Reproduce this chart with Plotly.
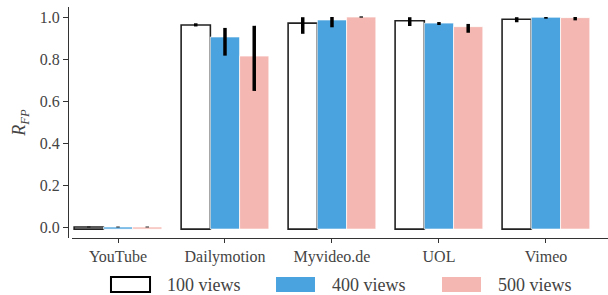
import plotly.graph_objects as go

categories = ["YouTube", "Dailymotion", "Myvideo.de", "UOL", "Vimeo"]
series_names = ["100 views", "400 views", "500 views"]

views100 = [0.0, 0.962, 0.971, 0.982, 0.989]
views100_hi = [0.002, 0.970, 0.999, 0.999, 0.999]
views100_lo = [-0.002, 0.955, 0.920, 0.957, 0.975]

views400 = [0.0, 0.905, 0.986, 0.971, 0.999]
views400_hi = [0.002, 0.948, 1.000, 0.976, 1.000]
views400_lo = [-0.002, 0.816, 0.951, 0.962, 0.992]

views500 = [0.0, 0.814, 1.000, 0.954, 0.997]
views500_hi = [0.002, 0.958, 1.003, 0.967, 1.000]
views500_lo = [-0.002, 0.648, 0.997, 0.925, 0.984]

y_ticks = [0.0, 0.2, 0.4, 0.6, 0.8, 1.0]

FONT = "Liberation Serif"
TXT = "#444444"
PAD = 0.01  # minimal visual height so zero-valued bars still show as a line

styles = [
    dict(color="white", line=dict(color="#222222", width=1.6)),
    dict(color="#4aa3df", line=dict(color="white", width=0.7)),
    dict(color="#f5b7b1", line=dict(color="white", width=0.7)),
]

fig = go.Figure()
for name, vals, hi, lo, st in zip(
    series_names,
    [views100, views400, views500],
    [views100_hi, views400_hi, views500_hi],
    [views100_lo, views400_lo, views500_lo],
    styles,
):
    fig.add_trace(go.Bar(
        x=categories,
        y=[v + PAD for v in vals],
        base=-PAD,
        name=name,
        marker=st,
        error_y=dict(
            type="data",
            symmetric=False,
            array=[h - v for h, v in zip(hi, vals)],
            arrayminus=[v - l for v, l in zip(vals, lo)],
            color="black",
            thickness=3.5,
            width=0,
        ),
        showlegend=False,
    ))

# custom legend swatches (wide boxes as in the reference)
legend_boxes = [(0.0796, 0.1519), (0.3852, 0.4574), (0.6926, 0.7648)]
legend_text_x = [0.1796, 0.4852, 0.7926]
for (x0, x1), st, tx, name in zip(legend_boxes, styles, legend_text_x, series_names):
    lc = "black" if st["color"] == "white" else st["color"]
    lw = 2 if st["color"] == "white" else 0
    fig.add_shape(type="rect", xref="paper", yref="paper",
                  x0=x0, x1=x1, y0=-0.2338, y1=-0.1688,
                  fillcolor=st["color"], line=dict(color=lc, width=lw))
    fig.add_annotation(x=tx, y=-0.2035, xref="paper", yref="paper",
                       text=name, showarrow=False, xanchor="left", yanchor="middle",
                       font=dict(family=FONT, size=18, color=TXT))

fig.update_layout(
    width=608, height=295,
    margin=dict(l=68, r=0, t=7, b=57),
    paper_bgcolor="white", plot_bgcolor="white",
    barmode="group", bargap=0.18, bargroupgap=0,
    font=dict(family=FONT, size=16, color=TXT),
    xaxis=dict(
        domain=[4 / 540, 1],
        range=[-0.43, 4.58],
        showline=True, linecolor="#333333", linewidth=1.2,
        ticks="outside", ticklen=4, tickcolor="#333333",
        showgrid=False, zeroline=False,
        tickfont=dict(family=FONT, size=16, color=TXT),
    ),
    yaxis=dict(
        anchor="free", position=0,
        range=[-0.0524, 1.0476],
        tickvals=y_ticks, tickformat=".1f",
        showline=True, linecolor="#333333", linewidth=1.2,
        ticks="outside", ticklen=5, tickcolor="#333333",
        showgrid=False, zeroline=False,
        tickfont=dict(family=FONT, size=16, color=TXT),
        title=dict(text="<i>R</i><sub><i>FP</i></sub>", standoff=8,
                   font=dict(family=FONT, size=18, color=TXT)),
    ),
)

fig.write_html("out.html", config={"displayModeBar": False},
               post_script="document.body.style.margin='0';")
